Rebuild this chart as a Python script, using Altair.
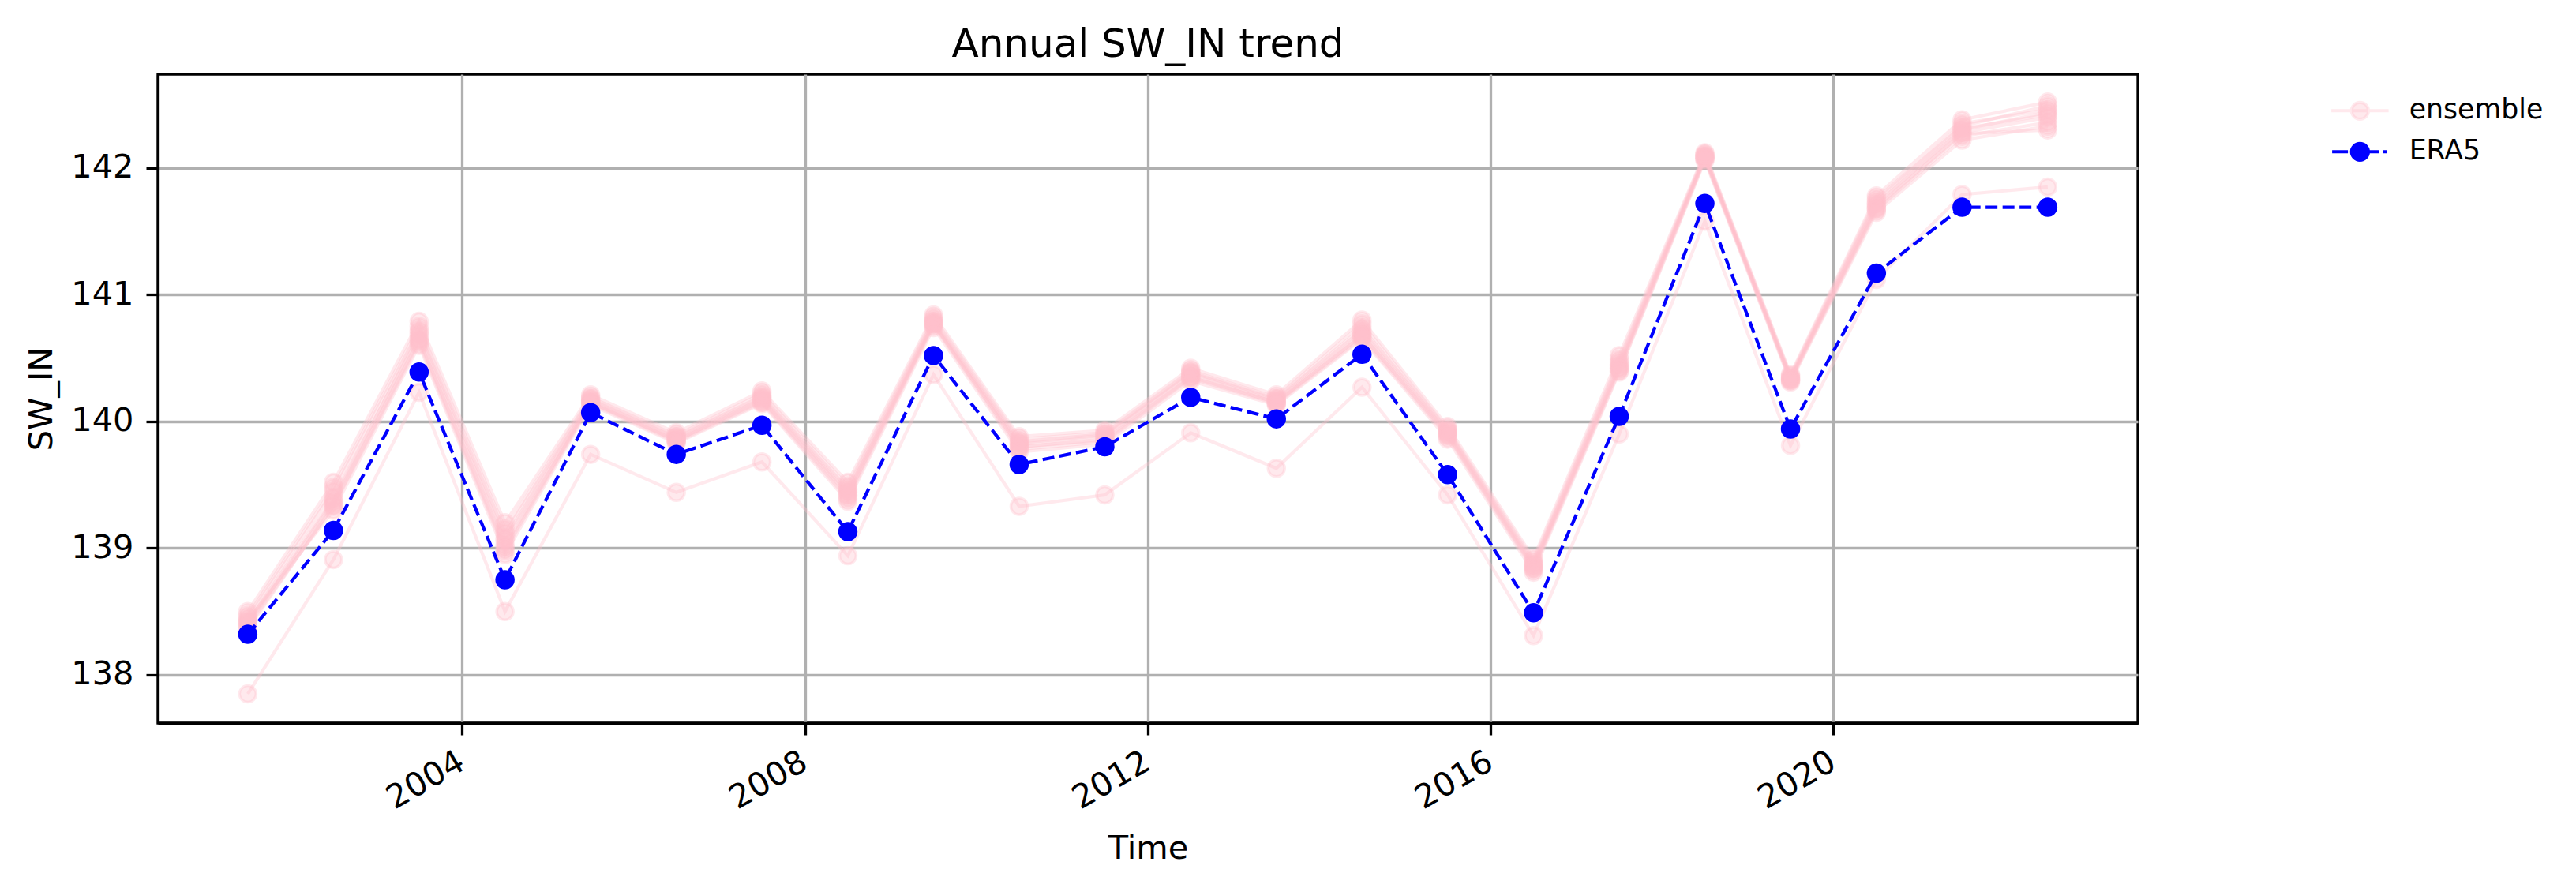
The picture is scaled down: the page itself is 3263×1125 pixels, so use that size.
import altair as alt
import pandas as pd

# ---------------- data ----------------
years = list(range(2001, 2023))
dates = [f"{y}-07-02T00:00:00" for y in years]

era5 = [138.32, 139.14, 140.39, 138.75, 140.07, 139.74, 139.97, 139.13, 140.52, 139.66, 139.80,
        140.19, 140.02, 140.53, 139.58, 138.49, 140.04, 141.72, 139.94, 141.17, 141.69, 141.69]

ens_01 = [138.50, 139.52, 140.79, 139.20, 140.21, 139.91, 140.24, 139.52, 140.84, 139.88, 139.93,
          140.42, 140.21, 140.80, 139.96, 138.92, 140.52, 142.12, 140.37, 141.78, 142.38, 142.52]
ens_02 = [138.45, 139.45, 140.72, 139.12, 140.18, 139.88, 140.20, 139.47, 140.80, 139.84, 139.90,
          140.39, 140.18, 140.74, 139.93, 138.88, 140.47, 142.10, 140.35, 141.74, 142.35, 142.46]
ens_03 = [138.42, 139.40, 140.68, 139.06, 140.16, 139.86, 140.18, 139.44, 140.78, 139.82, 139.88,
          140.37, 140.16, 140.70, 139.91, 138.86, 140.44, 142.09, 140.34, 141.71, 142.31, 142.42]
ens_04 = [138.40, 139.36, 140.65, 139.02, 140.15, 139.85, 140.16, 139.41, 140.77, 139.80, 139.86,
          140.35, 140.15, 140.68, 139.89, 138.84, 140.42, 142.08, 140.33, 141.69, 142.28, 142.40]
ens_05 = [138.38, 139.33, 140.62, 138.98, 140.14, 139.84, 140.15, 139.39, 140.76, 139.78, 139.84,
          140.34, 140.14, 140.66, 139.88, 138.83, 140.40, 142.07, 140.32, 141.67, 142.25, 142.36]
ens_06 = [138.43, 139.30, 140.60, 138.95, 140.13, 139.83, 140.14, 139.37, 140.74, 139.76, 139.82,
          140.32, 140.13, 140.65, 139.86, 138.81, 140.39, 142.06, 140.31, 141.65, 142.22, 142.33]
ens_07 = [138.47, 139.48, 140.75, 139.15, 140.19, 139.89, 140.22, 139.49, 140.82, 139.86, 139.91,
          140.40, 140.19, 140.77, 139.94, 138.90, 140.49, 142.11, 140.36, 141.76, 142.33, 142.49]
ens_08 = [138.41, 139.38, 140.70, 139.08, 140.17, 139.87, 140.19, 139.45, 140.79, 139.83, 139.89,
          140.38, 140.17, 140.72, 139.92, 138.87, 140.45, 142.09, 140.34, 141.72, 142.30, 142.44]
ens_09 = [138.36, 139.34, 140.64, 139.00, 140.15, 139.85, 140.17, 139.42, 140.77, 139.80, 139.85,
          140.35, 140.15, 140.68, 139.90, 138.85, 140.42, 142.08, 140.33, 141.68, 142.27, 142.30]
ens_10 = [137.85, 138.91, 140.23, 138.50, 139.74, 139.44, 139.68, 138.94, 140.37, 139.33, 139.42,
          139.91, 139.63, 140.27, 139.42, 138.31, 139.90, 141.58, 139.81, 141.12, 141.79, 141.85]

members = [ens_01, ens_02, ens_03, ens_04, ens_05, ens_06, ens_07, ens_08, ens_09, ens_10]
series_names = ["ensemble", "ERA5"]
y_ticks = [138, 139, 140, 141, 142]
x_tick_years = [2004, 2008, 2012, 2016, 2020]

# ---------------- tables ----------------
ens_rows = []
for i, m in enumerate(members):
    for d, v in zip(dates, m):
        ens_rows.append({"date": d, "member": f"m{i + 1:02d}", "value": v})
ens_df = pd.DataFrame(ens_rows)
era_df = pd.DataFrame({"date": dates, "value": era5})
legend_df = pd.DataFrame({"date": dates[:2], "value": era5[:2], "series": series_names})

FONT = "DejaVu Sans"
PINK = "#FFC0CB"
PINK_A = "rgba(255,192,203,0.35)"
BLUE = "#0000FF"
LW = 4.2
ALPHA = 0.35

x_enc = alt.X(
    "date:T",
    title="Time",
    scale=alt.Scale(domain=[alt.DateTime(year=2000, month=6, date=14),
                            alt.DateTime(year=2023, month=7, date=21)]),
    axis=alt.Axis(
        values=[alt.DateTime(year=y, month=1, date=1) for y in x_tick_years],
        format="%Y", labelAngle=330, labelAlign="right", labelBaseline="top",
        labelPadding=13, labelOffset=-11,
        titleY=171, titleBaseline="alphabetic",
    ),
)
y_enc = alt.Y(
    "value:Q",
    title="SW_IN",
    scale=alt.Scale(domain=[137.62, 142.74], nice=False, zero=False),
    axis=alt.Axis(values=y_ticks, format="d", labelPadding=16,
                  titleX=-135, titleY=411, titleBaseline="alphabetic", titleAngle=270,
                  titleAlign="center"),
)

ens_line = alt.Chart(ens_df).mark_line(
    stroke=PINK, strokeWidth=LW, strokeOpacity=ALPHA
).encode(x=x_enc, y=y_enc, detail="member:N")

ens_pts = alt.Chart(ens_df).mark_point(
    shape="circle", filled=True, size=441, fill=PINK, stroke=PINK, strokeWidth=3.5,
    fillOpacity=ALPHA, strokeOpacity=ALPHA, opacity=1
).encode(x=x_enc, y=y_enc, detail="member:N")

era_line = alt.Chart(era_df).mark_line(
    stroke=BLUE, strokeWidth=LW, strokeDash=[15, 6.5]
).encode(x=x_enc, y=y_enc)

era_pts = alt.Chart(era_df).mark_point(
    shape="circle", filled=True, size=441, fill=BLUE, stroke=BLUE, strokeWidth=3.5, opacity=1
).encode(x=x_enc, y=y_enc)

ens_path = "M-2.9,0L2.9,0M-0.85,0A0.85,0.85,0,1,1,0.85,0A0.85,0.85,0,1,1,-0.85,0Z"
era_path = ("M-2.82,0L-1.22,0M0.9,0L1.94,0M2.34,0L2.74,0"
            "M-0.85,0A0.85,0.85,0,1,1,0.85,0A0.85,0.85,0,1,1,-0.85,0Z")

legend = alt.Legend(
    title=None, orient="none", legendX=2772, legendY=29, padding=0,
    labelFont=FONT, labelFontSize=34.7, labelColor="black", labelOffset=45, labelLimit=500,
    symbolSize=625, symbolStrokeWidth=4, rowPadding=14, labelBaseline="middle",
    symbolOpacity=1,
)

legend_carrier = alt.Chart(legend_df).transform_filter("false").mark_point(
    filled=True, opacity=1
).encode(
    x=x_enc, y=y_enc,
    fill=alt.Fill("series:N", scale=alt.Scale(domain=series_names, range=[PINK_A, BLUE]), legend=legend),
    stroke=alt.Stroke("series:N", scale=alt.Scale(domain=series_names, range=[PINK_A, BLUE]), legend=legend),
    shape=alt.Shape("series:N", scale=alt.Scale(domain=series_names, range=[ens_path, era_path]), legend=legend),
)

chart = alt.layer(ens_line, ens_pts, era_line, era_pts, legend_carrier).properties(
    width=2508, height=822,
    title=alt.TitleParams("Annual SW_IN trend", font=FONT, fontSize=50, fontWeight="normal",
                          color="black", anchor="middle", frame="group",
                          baseline="alphabetic", offset=18.5, dy=46),
    autosize=alt.AutoSizeParams(type="none"),
    padding={"left": 192, "top": 86, "right": 540, "bottom": 190},
    background="white",
).configure_axis(
    labelFont=FONT, labelFontSize=41.5, labelColor="black",
    titleFont=FONT, titleFontSize=41.5, titleColor="black", titleFontWeight="normal",
    domainColor="black", domainWidth=3.3, tickColor="black", tickWidth=3.3, tickSize=15,
    gridColor="#b0b0b0", gridWidth=3.3, gridOpacity=1, grid=True,
).configure_view(stroke="black", strokeWidth=3.3)

chart.save("out.html", embed_options={"renderer": "svg", "actions": False})
